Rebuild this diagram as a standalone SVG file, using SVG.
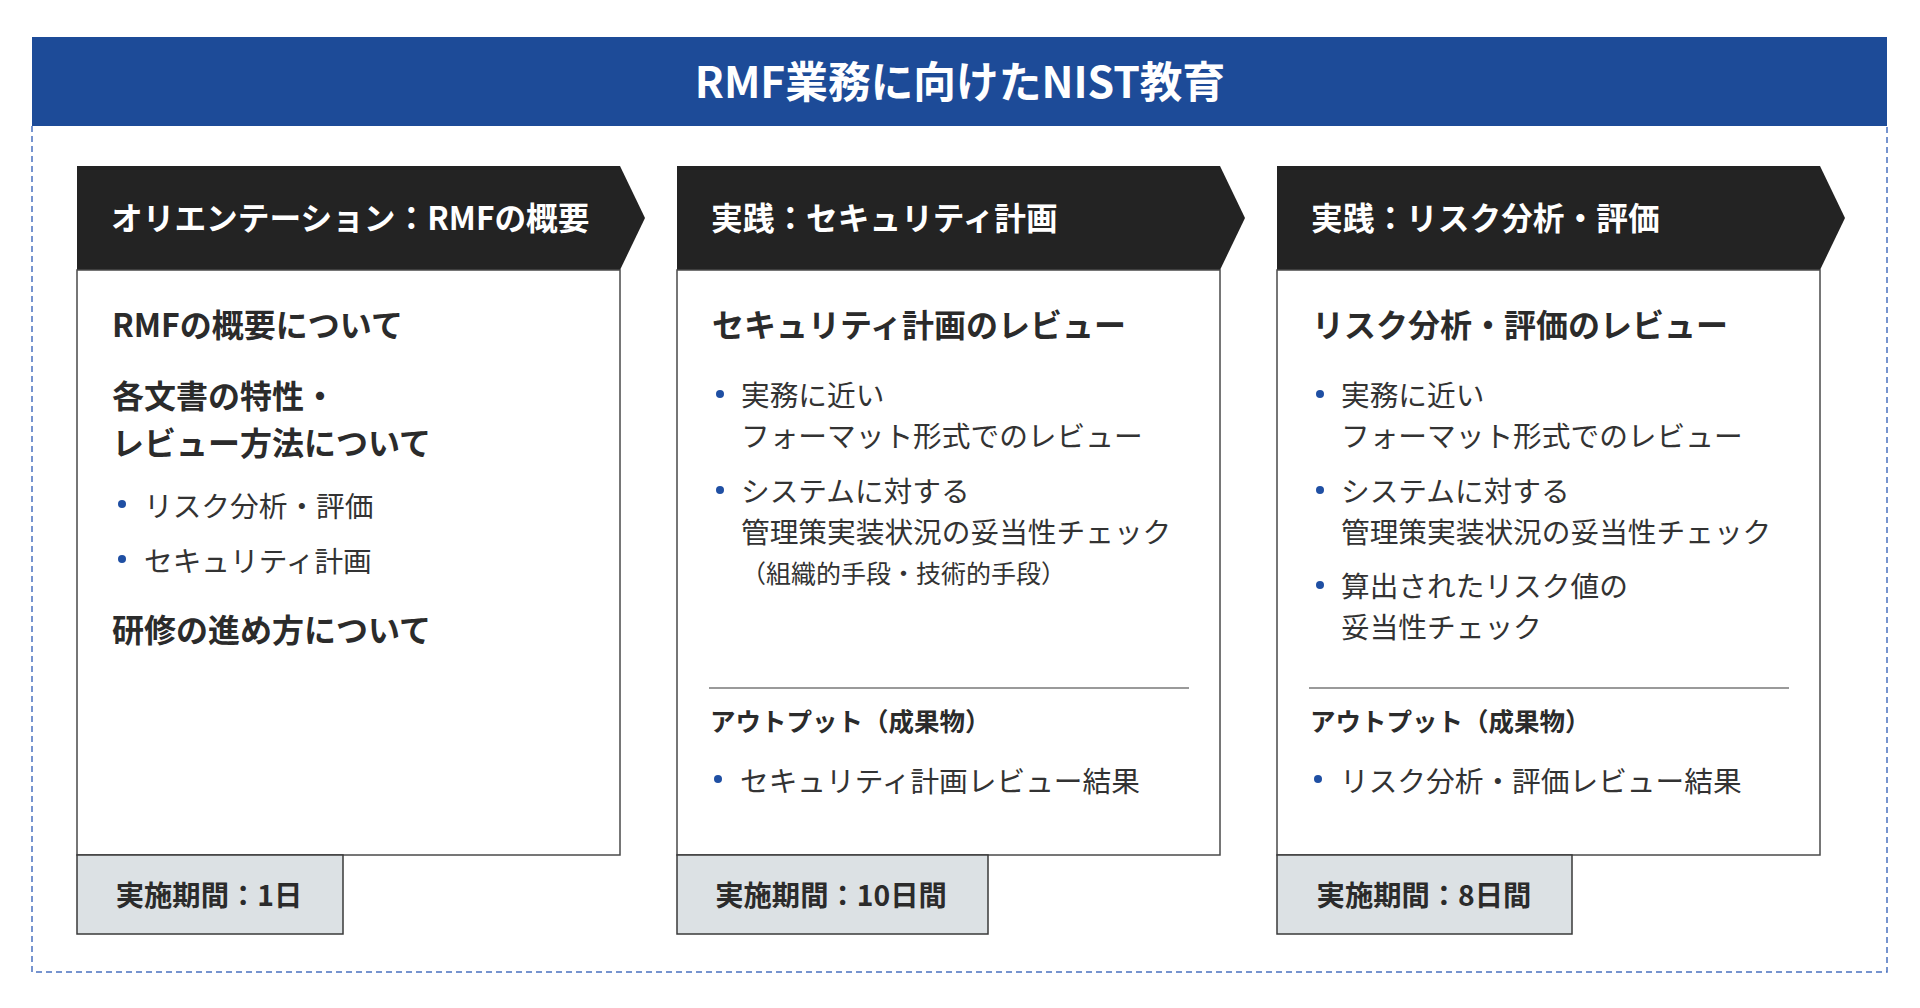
<svg xmlns="http://www.w3.org/2000/svg" width="1920" height="1008" viewBox="0 0 1920 1008">
<style>
text { font-family: "Noto Sans CJK JP", "Noto Sans", sans-serif; }
.title { font-size: 42.7px; font-weight: 700; fill: #ffffff; }
.hdr { fill: #232323; }
.hdrtxt { font-size: 31.7px; font-weight: 700; fill: #ffffff; }
.body { fill: #ffffff; stroke: #4a4a4a; stroke-width: 1.5; }
.h { font-size: 32px; font-weight: 700; fill: #2b2b2b; }
.t { font-size: 28.7px; font-weight: 400; fill: #333333; }
.s { font-size: 25px; font-weight: 400; fill: #333333; }
.out { font-size: 25.5px; font-weight: 700; fill: #2b2b2b; }
.dot { fill: #1f4fa3; }
.sep { stroke: #9a9a9a; stroke-width: 2; }
.period { fill: #dce1e4; stroke: #3a3a3a; stroke-width: 1.5; }
.ptxt { font-size: 28.3px; font-weight: 700; fill: #2b2b2b; text-anchor: middle; }
</style>
<rect x="0" y="0" width="1920" height="1008" fill="#ffffff"/>
<g id="frame">
  <path d="M32,126 V972 H1887 V126" fill="none" stroke="#4a72c0" stroke-width="1.5" stroke-dasharray="6 4"/>
  <rect x="32" y="37" width="1855" height="89" fill="#1d4b98"/>
  <text class="title" x="960" y="98" text-anchor="middle">RMF業務に向けたNIST教育</text>
</g>
<g id="connectors"></g>
<g id="card1">
  <polygon class="hdr" points="77,166 620,166 645,218 620,270 77,270"/>
  <text class="hdrtxt" x="111" y="230">オリエンテーション：RMFの概要</text>
  <rect class="body" x="77" y="270" width="543" height="585"/>
  <text class="h" x="112" y="337">RMFの概要について</text>
  <text class="h" x="112" y="408">各文書の特性・</text>
  <text class="h" x="112" y="455">レビュー方法について</text>
  <circle class="dot" cx="122" cy="504" r="4"/>
  <text class="t" x="144" y="517">リスク分析・評価</text>
  <circle class="dot" cx="122" cy="559" r="4"/>
  <text class="t" x="144" y="572">セキュリティ計画</text>
  <text class="h" x="112" y="642">研修の進め方について</text>
  <rect class="period" x="77" y="855" width="266" height="79"/>
  <text class="ptxt" x="209" y="906">実施期間：1日</text>
</g>
<g id="card2">
  <polygon class="hdr" points="677,166 1220,166 1245,218 1220,270 677,270"/>
  <text class="hdrtxt" x="711" y="230">実践：セキュリティ計画</text>
  <rect class="body" x="677" y="270" width="543" height="585"/>
  <text class="h" x="712" y="337">セキュリティ計画のレビュー</text>
  <circle class="dot" cx="720" cy="394" r="4"/>
  <text class="t" x="741" y="406">実務に近い</text>
  <text class="t" x="741" y="447">フォーマット形式でのレビュー</text>
  <circle class="dot" cx="720" cy="490" r="4"/>
  <text class="t" x="741" y="502">システムに対する</text>
  <text class="t" x="741" y="543">管理策実装状況の妥当性チェック</text>
  <text class="s" x="741" y="583">（組織的手段・技術的手段）</text>
  <line class="sep" x1="709" y1="688" x2="1189" y2="688"/>
  <text class="out" x="710" y="731">アウトプット（成果物）</text>
  <circle class="dot" cx="718" cy="779" r="4"/>
  <text class="t" x="740" y="792">セキュリティ計画レビュー結果</text>
  <rect class="period" x="677" y="855" width="311" height="79"/>
  <text class="ptxt" x="831" y="906">実施期間：10日間</text>
</g>
<g id="card3">
  <polygon class="hdr" points="1277,166 1820,166 1845,218 1820,270 1277,270"/>
  <text class="hdrtxt" x="1311" y="230">実践：リスク分析・評価</text>
  <rect class="body" x="1277" y="270" width="543" height="585"/>
  <text class="h" x="1312" y="337">リスク分析・評価のレビュー</text>
  <circle class="dot" cx="1320" cy="394" r="4"/>
  <text class="t" x="1341" y="406">実務に近い</text>
  <text class="t" x="1341" y="447">フォーマット形式でのレビュー</text>
  <circle class="dot" cx="1320" cy="490" r="4"/>
  <text class="t" x="1341" y="502">システムに対する</text>
  <text class="t" x="1341" y="543">管理策実装状況の妥当性チェック</text>
  <circle class="dot" cx="1320" cy="585" r="4"/>
  <text class="t" x="1341" y="597">算出されたリスク値の</text>
  <text class="t" x="1341" y="638">妥当性チェック</text>
  <line class="sep" x1="1309" y1="688" x2="1789" y2="688"/>
  <text class="out" x="1310" y="731">アウトプット（成果物）</text>
  <circle class="dot" cx="1318" cy="779" r="4"/>
  <text class="t" x="1340" y="792">リスク分析・評価レビュー結果</text>
  <rect class="period" x="1277" y="855" width="295" height="79"/>
  <text class="ptxt" x="1424" y="906">実施期間：8日間</text>
</g>
</svg>
